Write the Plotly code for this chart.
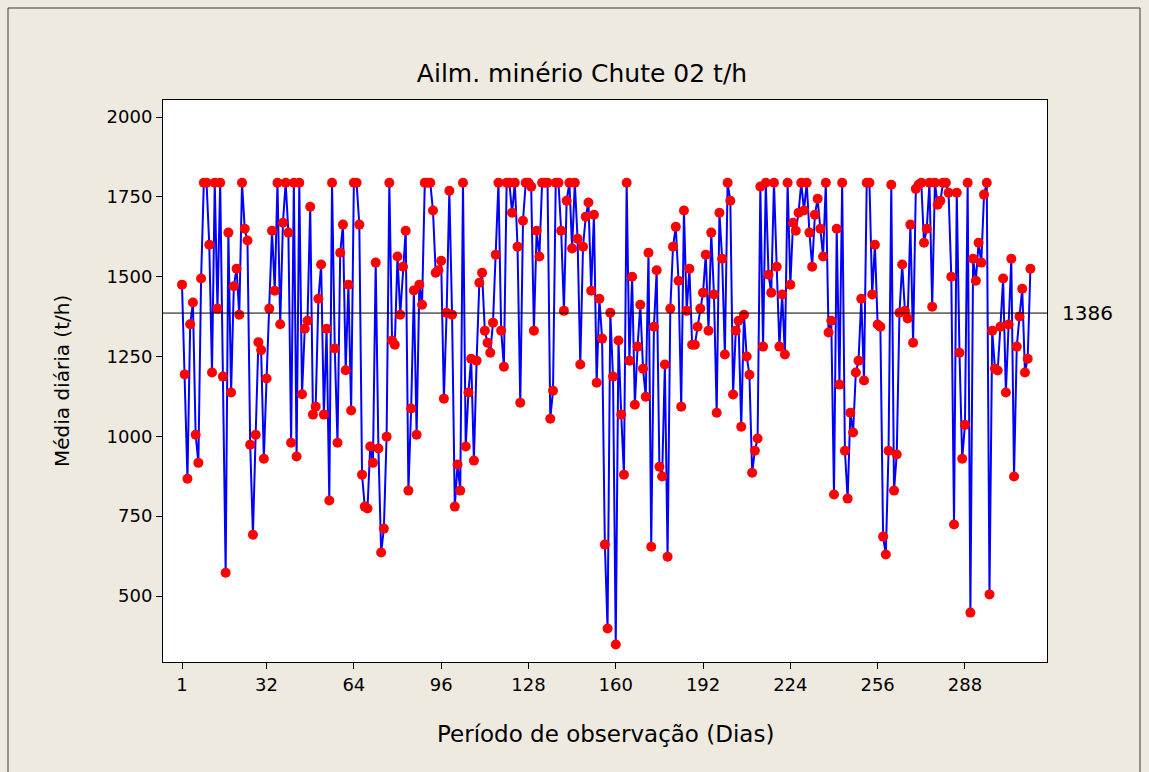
import plotly.graph_objects as go

values = [
    1475, 1194, 867, 1351, 1419, 1005, 917, 1494, 1794, 1794,
    1600, 1200, 1794, 1400, 1794, 1187, 573, 1638, 1137, 1470,
    1525, 1381, 1794, 1650, 1613, 974, 692, 1005, 1295, 1270,
    930, 1181, 1400, 1644, 1456, 1794, 1351, 1669, 1794, 1638,
    980,
    1794, 937, 1794, 1132, 1337, 1362, 1719, 1068, 1093, 1431,
    1538, 1068, 1337, 799, 1794, 1275, 980, 1575, 1663, 1207,
    1475, 1081, 1794, 1794, 1663, 880, 780, 774, 968, 917,
    1544, 962, 636, 711, 999, 1794, 1300, 1287, 1563,
    1381, 1531, 1644, 830, 1087, 1457, 1005, 1475, 1412, 1794,
    1794, 1794, 1707, 1512, 1520, 1550, 1118, 1387, 1769, 1381,
    780, 912, 830, 1794, 968, 1137, 1243, 924, 1237, 1481,
    1512, 1331, 1293, 1262, 1356, 1569, 1794, 1331, 1218, 1794,
    1794, 1700, 1794, 1594, 1105, 1675, 1794, 1794, 1782,
    1331, 1644, 1563, 1794, 1794, 1794, 1055, 1143, 1794, 1794,
    1644, 1393, 1738, 1794, 1588, 1794, 1619, 1225, 1594, 1688,
    1732, 1456, 1694, 1168, 1431, 1306, 661, 398, 1387, 1187,
    348,
    1300, 1068, 880, 1794, 1237, 1500, 1099, 1281, 1412, 1212,
    1124, 1575, 654, 1343, 1520, 905, 874, 1225, 623, 1400,
    1594, 1656, 1487, 1093, 1707, 1393, 1525, 1287, 1287, 1343,
    1400, 1450, 1569, 1331, 1638, 1444, 1074, 1700, 1556, 1256,
    1794,
    1738, 1131, 1331, 1362, 1030, 1381, 1250, 1193, 886, 955,
    993, 1782, 1281, 1794, 1506, 1450, 1794, 1531, 1281, 1444,
    1256, 1794, 1475, 1669, 1644, 1700, 1794, 1707, 1794, 1638,
    1531, 1694, 1744, 1650, 1563, 1794, 1325, 1362, 818, 1650,
    1162, 1794,
    955, 805, 1074, 1012, 1200, 1237, 1431, 1175, 1794, 1794,
    1444, 1600, 1350, 1343, 686, 630, 955, 1788, 830, 943,
    1387, 1538, 1393, 1369, 1663, 1293, 1775, 1788, 1794, 1606,
    1650, 1794, 1406, 1794, 1725, 1738, 1794, 1794, 1763, 1500,
    724, 1763, 1262, 930, 1036, 1794, 448, 1556, 1487, 1606,
    1544, 1757, 1794, 505, 1331, 1212, 1206, 1343, 1494, 1137,
    1350, 1556, 874, 1281, 1375, 1462, 1200, 1243, 1525,
]
days = list(range(1, len(values) + 1))

mean_value = 1386
mean_label = "1386"
x_tickvals = [1, 32, 64, 96, 128, 160, 192, 224, 256, 288]
x_ticktext = [str(v) for v in x_tickvals]
y_tickvals = [500, 750, 1000, 1250, 1500, 1750, 2000]

title_text = "Ailm. minério Chute 02 t/h"
x_title = "Período de observação (Dias)"
y_title = "Média diária (t/h)"

FONT = "DejaVu Sans"
W, H = 1149, 772
L, R, T, B = 163, 1047, 100, 662

fig = go.Figure()
fig.add_trace(go.Scatter(
    x=days, y=values, mode="lines+markers",
    line=dict(color="#0000FF", width=2),
    marker=dict(color="#FF0000", size=10, line=dict(width=0)),
    showlegend=False, hoverinfo="x+y",
))

fig.add_shape(type="line", xref="paper", yref="y", x0=0, x1=1,
              y0=mean_value, y1=mean_value, line=dict(color="#000000", width=1))

def px_x(p):
    return (p - L) / (R - L)

def px_y(p):
    return (B - p) / (B - T)

# outer frame
fig.add_shape(type="rect", xref="paper", yref="paper",
              x0=px_x(8), x1=px_x(1140), y0=px_y(790), y1=px_y(8),
              line=dict(color="#3a3a3a", width=1), fillcolor="rgba(0,0,0,0)", layer="below")

fig.add_annotation(x=1, xref="paper", y=mean_value, yref="y", text=mean_label,
                   showarrow=False, xanchor="left", xshift=13,
                   font=dict(family=FONT, size=20, color="#000000"))
fig.add_annotation(x=0.5, xref="paper", y=0, yref="paper", text=x_title,
                   showarrow=False, xanchor="center", yanchor="middle", yshift=-72,
                   font=dict(family=FONT, size=23, color="#000000"))
fig.add_annotation(x=0, xref="paper", y=0.5, yref="paper", text=y_title,
                   showarrow=False, textangle=-90, xanchor="center", yanchor="middle",
                   xshift=-101, font=dict(family=FONT, size=20, color="#000000"))

fig.update_layout(
    width=W, height=H,
    margin=dict(l=L, r=W - R, t=T, b=H - B),
    paper_bgcolor="#EEEAE0",
    plot_bgcolor="#FFFFFF",
    title=dict(text=title_text, xref="container", yref="container",
               x=582 / W, y=1 - 73 / H, xanchor="center", yanchor="middle",
               font=dict(family=FONT, size=25, color="#000000")),
    font=dict(family=FONT, size=18, color="#000000"),
)
fig.update_xaxes(range=[1 + (L - 182) / 2.728, 1 + (R - 182) / 2.728],
                 tickvals=x_tickvals, ticktext=x_ticktext,
                 showgrid=False, zeroline=False, showline=True, mirror=True,
                 linecolor="#000000", linewidth=1, ticks="outside", ticklen=6,
                 tickcolor="#000000", tickfont=dict(family=FONT, size=18))
fig.update_yaxes(range=[500 - (B - 596) * 1500 / 479, 2000 + (117 - T) * 1500 / 479],
                 tickvals=y_tickvals,
                 showgrid=False, zeroline=False, showline=True, mirror=True,
                 linecolor="#000000", linewidth=1, ticks="outside", ticklen=6,
                 tickcolor="#000000", tickfont=dict(family=FONT, size=18))

fig.write_html("out.html")
